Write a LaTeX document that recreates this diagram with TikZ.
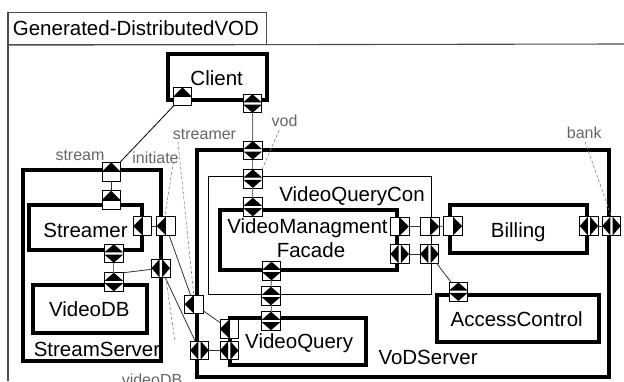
\documentclass[tikz,border=0pt]{standalone}
\usepackage{fontspec}
\setmainfont{Liberation Sans}
\usetikzlibrary{calc}
\tikzset{
  comp/.style={draw=black, line width=4pt, inner sep=0pt, outer sep=0pt},
  thinbox/.style={draw=black, line width=0.8pt, inner sep=0pt, outer sep=0pt},
  port/.style={draw=black, line width=0.7pt, fill=white, minimum size=18.5pt, inner sep=0pt, outer sep=0pt},
  pvb/.style={port, path picture={
      \fill[black] (path picture bounding box.north) -- ([yshift=1.2pt]path picture bounding box.west) -- ([yshift=1.2pt]path picture bounding box.east) -- cycle;
      \fill[black] (path picture bounding box.south) -- ([yshift=-1.2pt]path picture bounding box.west) -- ([yshift=-1.2pt]path picture bounding box.east) -- cycle;}},
  phb/.style={port, path picture={
      \fill[black] (path picture bounding box.west) -- ([xshift=-1.2pt]path picture bounding box.north) -- ([xshift=-1.2pt]path picture bounding box.south) -- cycle;
      \fill[black] (path picture bounding box.east) -- ([xshift=1.2pt]path picture bounding box.north) -- ([xshift=1.2pt]path picture bounding box.south) -- cycle;}},
  pup/.style={port, path picture={
      \fill[black] (path picture bounding box.north) -- (path picture bounding box.west) -- (path picture bounding box.east) -- cycle;
      \draw[black, line width=0.7pt] (path picture bounding box.west) -- (path picture bounding box.east);}},
  pleft/.style={port, path picture={
      \fill[black] (path picture bounding box.west) -- (path picture bounding box.north) -- (path picture bounding box.south) -- cycle;
      \draw[black, line width=0.7pt] (path picture bounding box.north) -- (path picture bounding box.south);}},
  pright/.style={port, path picture={
      \fill[black] (path picture bounding box.east) -- (path picture bounding box.north) -- (path picture bounding box.south) -- cycle;
      \draw[black, line width=0.7pt] (path picture bounding box.north) -- (path picture bounding box.south);}},
  conn/.style={draw=black!80, line width=0.8pt},
  dlg/.style={draw=black!55, line width=1pt},
  lbldash/.style={draw=black!50, line width=0.6pt, dash pattern=on 3pt off 2pt},
  txt/.style={font=\fontsize{20.5}{24.4}\selectfont, inner sep=0pt, anchor=base},
  lbl/.style={font=\fontsize{16}{18}\selectfont, text=black!60, inner sep=0pt, anchor=base},
  frame/.style={draw=black!70, line width=1.1pt}
}
\begin{document}
\begin{tikzpicture}[x=1pt,y=-1pt]
\useasboundingbox (0,0) rectangle (624,381);
\fill[white] (0,0) rectangle (624,381);

% frame
\node[frame, anchor=north west, minimum width=258pt, minimum height=32pt, inner sep=0pt] (title) at (8,12) {};
\node[txt, anchor=base west] (titletext) at (12.7,35) {Generated-DistributedVOD};
\coordinate (fbl) at (8,381);
\coordinate (ftr) at (624,44);
\draw[frame] (title.north west) -- (fbl);
\draw[frame] (title.south west) -- (ftr);

% component boxes
\node[comp, minimum width=99.6pt, minimum height=46pt] (client) at (217.5,76.7) {};
\node[comp, minimum width=138pt, minimum height=191pt] (ss) at (91.7,265.8) {};
\node[comp, minimum width=412.3pt, minimum height=227pt] (vod) at (403.2,263.2) {};
\node[thinbox, minimum width=223.4pt, minimum height=117.3pt] (vqc) at (320,235.3) {};
\node[comp, minimum width=177.5pt, minimum height=60.8pt] (vmf) at (308.25,239.9) {};
\node[comp, minimum width=136.7pt, minimum height=47.4pt] (bill) at (518.7,229) {};
\node[comp, minimum width=161.7pt, minimum height=47.3pt] (ac) at (517.8,318.3) {};
\node[comp, minimum width=136pt, minimum height=47.3pt] (vq) at (298.3,341.7) {};
\node[comp, minimum width=113.3pt, minimum height=45pt] (st) at (85.3,227.2) {};
\node[comp, minimum width=114.6pt, minimum height=47.7pt] (vdb) at (90,309.2) {};

% texts
\node[txt] (clienttext) at (216.7,85.7) {Client};
\node[txt, anchor=base east] (vqctext) at (425,201.7) {VideoQueryCon};
\node[txt] (vmftext1) at (307.5,233.3) {VideoManagment};
\node[txt] (vmftext2) at (311,257.7) {Facade};
\node[txt] (billtext) at (518.3,237.3) {Billing};
\node[txt] (actext) at (516.7,326) {AccessControl};
\node[txt, anchor=base west] (vqtext) at (245,348.3) {VideoQuery};
\node[txt, anchor=base west] (vodtext) at (378.3,364.3) {VoDServer};
\node[txt] (sttext) at (85.5,237.3) {Streamer};
\node[txt] (vdbtext) at (89.3,316.7) {VideoDB};
\node[txt] (sstext) at (97,356) {StreamServer};

% ports
\node[pup] (cA) at (182.5,96.5) {};
\node[pvb] (cB) at (252.5,103.5) {};
\node[pvb] (vodP) at (252.8,150.3) {};
\node[pvb] (vqcT) at (252.8,178.7) {};
\node[pvb] (vmfT) at (252.8,207) {};
\node[pright] (vmfR1) at (399.7,226.5) {};
\node[phb] (vmfR2) at (399.7,254) {};
\node[pright] (vqcR1) at (430,226.5) {};
\node[phb] (vqcR2) at (429.5,254) {};
\node[pright] (billL) at (453,226) {};
\node[phb] (billR) at (589,226) {};
\node[phb] (bankP) at (611.5,226) {};
\node[pvb] (acT) at (458.4,291.7) {};
\node[pvb] (vmfB) at (271.5,271) {};
\node[pvb] (vqcB) at (271,296) {};
\node[pvb] (vqT) at (271,321) {};
\node[pleft] (vqL1) at (229.2,329) {};
\node[phb] (vqL2) at (229.2,350.5) {};
\node[pleft] (vodL1) at (193.8,304.2) {};
\node[phb] (vodL2) at (199.5,350.3) {};
\node[pup] (ssT) at (111.2,171.6) {};
\node[pup] (stT) at (111.2,200) {};
\node[pleft] (stR) at (142.5,226) {};
\node[pleft] (ssR1) at (165.8,226) {};
\node[pvb] (stB) at (113.8,253.5) {};
\node[pvb] (vdbT) at (113.8,282) {};
\node[phb] (ssR2) at (160.8,268.2) {};

% connectors
\draw[draw=black, line width=0.8pt] (cA) -- (ssT);
\draw[dlg] (cB) -- (vodP);
\draw[dlg] (vodP) -- (vqcT);
\draw[dlg] (vqcT) -- (vmfT);
\draw[conn] (vmfR1) -- (vqcR1);
\draw[conn] (vqcR1) -- (billL);
\draw[conn] (billR) -- (bankP);
\draw[conn] (vmfR2) -- (vqcR2);
\draw[conn] (vqcR2) -- (acT);
\draw[dlg] (vmfB) -- (vqcB);
\draw[dlg] (vqcB) -- (vqT);
\draw[conn] (vqL1) -- (vodL1);
\draw[conn] (vqL2) -- (vodL2);
\draw[conn] (ssR1) -- (vodL1);
\draw[conn] (ssR2) -- (vodL2);
\draw[conn] (ssT) -- (stT);
\draw[conn] (stR) -- (ssR1);
\draw[dlg] (stB) -- (vdbT);
\draw[conn] (vdbT.north east) -- (ssR2);

% labels
\node[lbl] (lstream) at (80,160.7) {stream};
\node[lbl] (linit) at (155.5,163.3) {initiate};
\node[lbl] (lstreamer) at (204.5,139.3) {streamer};
\node[lbl] (lvod) at (284.5,126.7) {vod};
\node[lbl] (lbank) at (584.2,138.3) {bank};
\node[lbl] (lvdb) at (152,385.5) {videoDB};

\coordinate (dsS) at (178,141.7);
\coordinate (dsI) at (173.3,162);
\coordinate (dsV) at (279.3,130);
\coordinate (dsB) at (585,141.7);
\coordinate (dsD) at (175,342);
\draw[lbldash] (dsS) -- (vodL1.north);
\draw[lbldash] (dsI) -- ([xshift=-1pt]ssR1.north);
\draw[lbldash] (dsV) -- (vqcT.north east);
\draw[lbldash] (dsB) -- (bankP.north);
\draw[lbldash] ([xshift=5pt]ssR2.south) -- (dsD);
\end{tikzpicture}
\end{document}
